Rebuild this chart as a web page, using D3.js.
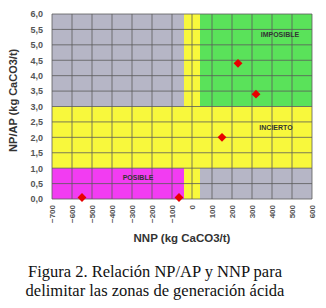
<!DOCTYPE html>
<html>
<head>
<meta charset="utf-8">
<script src="https://cdn.jsdelivr.net/npm/d3@7"></script>
<style>
  body { margin: 0; background: #fff; }
</style>
</head>
<body>
<div id="chart"></div>
<script>
// data
const xTicks = [-700, -600, -500, -400, -300, -200, -100, 0, 100, 200, 300, 400, 500, 600];
const yTicks = [0, 0.5, 1, 1.5, 2, 2.5, 3, 3.5, 4, 4.5, 5, 5.5, 6];
const nnp = [-550, -65, 150, 230, 320];
const npap = [0.05, 0.05, 2.0, 4.4, 3.4];
// zones: [x0, x1, y0, y1, colour]
const zoneX0 = [-700, -700, -40, 40, -700, 40];
const zoneX1 = [600, -40, 40, 600, -40, 600];
const zoneY0 = [1, 3, 0, 3, 0, 0];
const zoneY1 = [3, 6, 6, 6, 1, 1];
const zoneFill = ['#f8f83c', '#b6b6c6', '#f8f83c', '#5ae25a', '#f23cf2', '#b6b6c6'];
const zoneNames = ['IMPOSIBLE', 'INCIERTO', 'POSIBLE'];
const zoneLabelX = [440, 420, -270];
const zoneLabelY = [5.25, 2.25, 0.62];

const margin = { top: 14, left: 52, right: 14, bottom: 109 };
const width = 326, height = 308;
const svg = d3.select('#chart').append('svg')
    .attr('width', width).attr('height', height);

const x = d3.scaleLinear().domain([-700, 600]).range([margin.left, width - margin.right]);
const y = d3.scaleLinear().domain([0, 6]).range([height - margin.bottom, margin.top]);

// zones
svg.selectAll('rect.zone')
    .data(zoneFill)
    .enter().append('rect')
    .attr('x', (d, i) => x(zoneX0[i]))
    .attr('width', (d, i) => x(zoneX1[i]) - x(zoneX0[i]))
    .attr('y', (d, i) => y(zoneY1[i]))
    .attr('height', (d, i) => y(zoneY0[i]) - y(zoneY1[i]))
    .attr('fill', d => d);

// grid
svg.append('g').selectAll('line')
    .data(xTicks).enter().append('line')
    .attr('x1', d => x(d)).attr('x2', d => x(d))
    .attr('y1', y(0)).attr('y2', y(6))
    .attr('stroke', '#5a5a5a').attr('stroke-width', 0.8);
svg.append('g').selectAll('line')
    .data(yTicks).enter().append('line')
    .attr('x1', x(-700)).attr('x2', x(600))
    .attr('y1', d => y(d)).attr('y2', d => y(d))
    .attr('stroke', '#5a5a5a').attr('stroke-width', 0.8);

// axes
const yAxis = svg.append('g')
    .attr('transform', `translate(${x(-700)},0)`)
    .call(d3.axisLeft(y).tickValues(yTicks).tickSize(0).tickPadding(9)
        .tickFormat(d => d3.format('.1f')(d).replace('.', ',')));
yAxis.select('.domain').remove();
yAxis.selectAll('text')
    .style('font-family', 'Arial, "Liberation Sans", sans-serif')
    .style('font-size', '9px').style('font-weight', 'bold').attr('fill', '#555');

const xAxis = svg.append('g')
    .attr('transform', `translate(0,${y(0)})`)
    .call(d3.axisBottom(x).tickValues(xTicks).tickSize(0).tickFormat(d3.format('d')));
xAxis.select('.domain').remove();
xAxis.selectAll('text')
    .attr('transform', 'rotate(-90)')
    .attr('text-anchor', 'end')
    .attr('x', -6).attr('y', 0).attr('dy', '0.32em')
    .style('font-family', 'Arial, "Liberation Sans", sans-serif')
    .style('font-size', '8px').style('font-weight', 'bold').attr('fill', '#555');

// zone labels
svg.selectAll('text.zname')
    .data(zoneNames).enter().append('text')
    .attr('x', (d, i) => x(zoneLabelX[i]))
    .attr('y', (d, i) => y(zoneLabelY[i]))
    .attr('text-anchor', 'middle')
    .style('font-family', 'Arial, "Liberation Sans", sans-serif')
    .style('font-size', '7px').style('font-weight', 'bold')
    .attr('fill', '#333')
    .text(d => d);

// points
svg.selectAll('path.pt')
    .data(nnp).enter().append('path')
    .attr('d', d3.symbol(d3.symbolDiamond2, 50))
    .attr('transform', (d, i) => `translate(${x(d)},${y(npap[i])})`)
    .attr('fill', '#e80000');

// axis titles
svg.append('text')
    .attr('x', 182).attr('y', 242)
    .attr('text-anchor', 'middle')
    .style('font-family', 'Arial, "Liberation Sans", sans-serif')
    .style('font-size', '11.5px').style('font-weight', 'bold').attr('fill', '#333')
    .text('NNP (kg CaCO3/t)');
svg.append('text')
    .attr('transform', `translate(17,${y(3.2)}) rotate(-90)`)
    .attr('text-anchor', 'middle')
    .style('font-family', 'Arial, "Liberation Sans", sans-serif')
    .style('font-size', '11px').style('font-weight', 'bold').attr('fill', '#333')
    .text('NP/AP (kg CaCO3/t)');

// caption
const caption = ['Figura 2. Relación NP/AP y NNP para', 'delimitar las zonas de generación ácida'];
svg.selectAll('text.cap')
    .data(caption).enter().append('text')
    .attr('x', 155).attr('y', (d, i) => 277 + i * 19)
    .attr('text-anchor', 'middle')
    .style('font-family', '"Liberation Serif", "Times New Roman", serif')
    .style('font-size', '16.5px').attr('fill', '#111')
    .text(d => d);
</script>
</body>
</html>
